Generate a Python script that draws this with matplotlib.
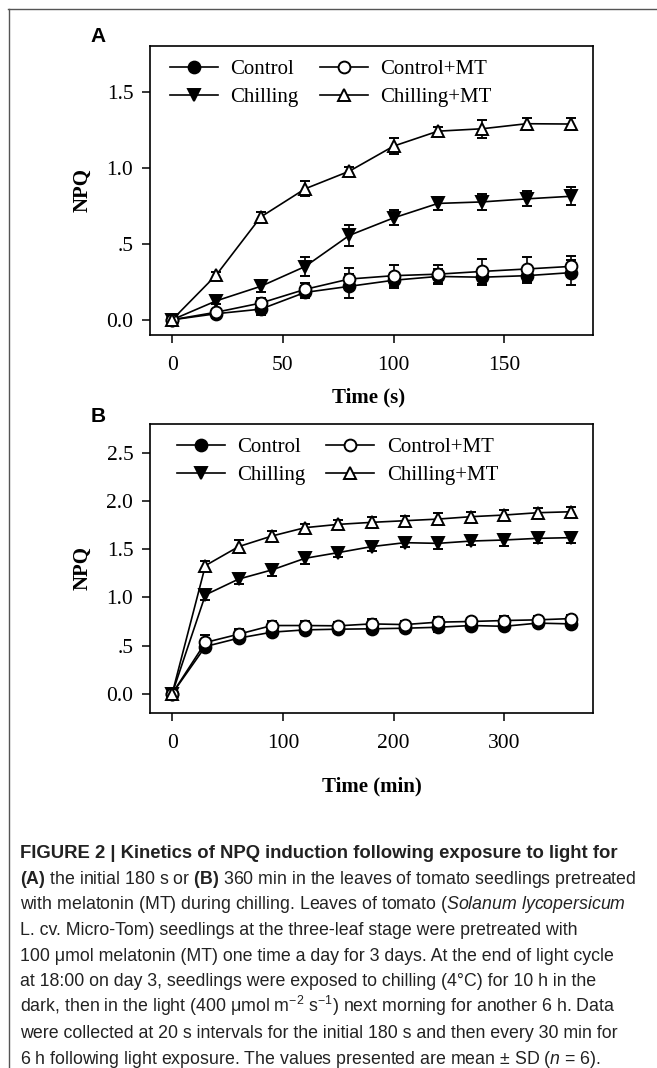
import matplotlib
matplotlib.use("Agg")
from matplotlib import pyplot as plt
from matplotlib.lines import Line2D

plt.rcParams["font.family"] = ["Liberation Serif", "DejaVu Serif"]
plt.rcParams["mathtext.fontset"] = "custom"
plt.rcParams["mathtext.rm"] = "Liberation Sans"
plt.rcParams["mathtext.it"] = "Liberation Sans:italic"
plt.rcParams["mathtext.bf"] = "Liberation Sans:bold"

# panel A: first 180 s
timeSec = [0, 20, 40, 60, 80, 100, 120, 140, 160, 180]
controlA = [0.0, 0.04, 0.07, 0.18, 0.22, 0.26, 0.285, 0.28, 0.29, 0.31]
controlA_sd = [0.0, 0.03, 0.04, 0.04, 0.08, 0.05, 0.05, 0.05, 0.05, 0.08]
chillingA = [0.0, 0.125, 0.22, 0.35, 0.555, 0.67, 0.765, 0.775, 0.795, 0.812]
chillingA_sd = [0.0, 0.02, 0.04, 0.06, 0.07, 0.05, 0.04, 0.05, 0.05, 0.06]
controlMtA = [0.0, 0.05, 0.11, 0.20, 0.268, 0.29, 0.30, 0.318, 0.334, 0.351]
controlMtA_sd = [0.0, 0.02, 0.03, 0.04, 0.07, 0.07, 0.06, 0.08, 0.08, 0.07]
chillingMtA = [0.0, 0.296, 0.676, 0.861, 0.977, 1.142, 1.24, 1.256, 1.289, 1.287]
chillingMtA_sd = [0.0, 0.02, 0.03, 0.05, 0.03, 0.05, 0.03, 0.06, 0.04, 0.04]

# panel B: 6 h, every 30 min
timeMin = [0, 30, 60, 90, 120, 150, 180, 210, 240, 270, 300, 330, 360]
controlB = [0.0, 0.49, 0.577, 0.639, 0.663, 0.67, 0.674, 0.68, 0.69, 0.708, 0.70, 0.733, 0.725]
controlB_sd = [0.0, 0.05, 0.04, 0.04, 0.04, 0.04, 0.04, 0.04, 0.05, 0.04, 0.03, 0.04, 0.04]
chillingB = [0.0, 1.026, 1.19, 1.285, 1.406, 1.465, 1.527, 1.568, 1.561, 1.585, 1.596, 1.613, 1.62]
chillingB_sd = [0.0, 0.05, 0.05, 0.06, 0.06, 0.05, 0.05, 0.05, 0.06, 0.04, 0.06, 0.05, 0.06]
controlMtB = [0.0, 0.532, 0.618, 0.708, 0.708, 0.705, 0.725, 0.718, 0.743, 0.75, 0.76, 0.767, 0.78]
controlMtB_sd = [0.0, 0.08, 0.05, 0.05, 0.05, 0.04, 0.05, 0.04, 0.05, 0.04, 0.05, 0.04, 0.04]
chillingMtB = [0.0, 1.33, 1.527, 1.637, 1.724, 1.758, 1.779, 1.796, 1.813, 1.838, 1.855, 1.879, 1.889]
chillingMtB_sd = [0.0, 0.05, 0.07, 0.05, 0.04, 0.05, 0.06, 0.05, 0.06, 0.05, 0.05, 0.05, 0.05]

seriesLabels = ["Control", "Chilling", "Control+MT", "Chilling+MT"]

captionLines = [
    "FIGURE 2 | Kinetics of NPQ induction following exposure to light for",
    r"$\mathbf{(A)}$ the initial 180 s or $\mathbf{(B)}$ 360 min in the leaves of tomato seedlings pretreated",
    r"with melatonin (MT) during chilling. Leaves of tomato ($\mathit{Solanum\ lycopersicum}$",
    "L. cv. Micro-Tom) seedlings at the three-leaf stage were pretreated with",
    "100 \u03bcmol melatonin (MT) one time a day for 3 days. At the end of light cycle",
    "at 18:00 on day 3, seedlings were exposed to chilling (4\u00b0C) for 10 h in the",
    "dark, then in the light (400 \u03bcmol m$^{-2}$ s$^{-1}$) next morning for another 6 h. Data",
    "were collected at 20 s intervals for the initial 180 s and then every 30 min for",
    "6 h following light exposure. The values presented are mean \u00b1 SD ($\\mathit{n}$ = 6).",
]

W, H = 657, 1068


def figRect(x0, y0, x1, y1):
    return [x0 / W, 1 - y1 / H, (x1 - x0) / W, (y1 - y0) / H]


def drawPanel(ax, x, data, xlim, ylim, yticks, yticklabels, xticks, xlabel, legX):
    styles = [
        {"marker": "o", "mfc": "black"},
        {"marker": "v", "mfc": "black"},
        {"marker": "o", "mfc": "white"},
        {"marker": "^", "mfc": "white"},
    ]
    handles = []
    for (y, sd), st in zip(data, styles):
        eb = ax.errorbar(
            x, y, yerr=sd,
            color="black", lw=1.2,
            marker=st["marker"], mfc=st["mfc"], mec="black", mew=1.4, ms=8.5,
            ecolor="black", elinewidth=1.2, capsize=3.5, capthick=1.2,
            clip_on=False,
        )
        handles.append(eb.lines[0])

    ax.set_xlim(xlim)
    ax.set_ylim(ylim)
    ax.set_xticks(xticks)
    ax.set_yticks(yticks)
    ax.set_yticklabels(yticklabels)
    ax.tick_params(direction="out", length=6, width=1.1, labelsize=15.5)
    ax.tick_params(axis="x", pad=9)
    ax.tick_params(axis="y", pad=6)
    for sp in ax.spines.values():
        sp.set_linewidth(1.2)

    ax.set_ylabel("NPQ", fontsize=15, fontweight="bold")
    ax.yaxis.set_label_coords(-0.129, 0.5)
    ax.set_xlabel(xlabel, fontsize=15, fontweight="bold")

    ax.legend(
        handles, seriesLabels, ncol=2, frameon=False, fontsize=15,
        loc="upper left", bbox_to_anchor=(legX, 1.0),
        handlelength=2.3, handletextpad=0.6, columnspacing=1.0,
        labelspacing=0.4, borderaxespad=0.25,
    )


fig = plt.figure(figsize=(W / 100, H / 100), dpi=100)

axA = fig.add_axes(figRect(150, 46, 593, 335))
drawPanel(
    axA, timeSec,
    [(controlA, controlA_sd), (chillingA, chillingA_sd),
     (controlMtA, controlMtA_sd), (chillingMtA, chillingMtA_sd)],
    (-10, 190), (-0.1, 1.8), [0, 0.5, 1.0, 1.5], ["0.0", ".5", "1.0", "1.5"],
    [0, 50, 100, 150], "Time (s)", 0.015,
)
axA.xaxis.set_label_coords(0.494, -0.18)

axB = fig.add_axes(figRect(150, 424, 593, 713))
drawPanel(
    axB, timeMin,
    [(controlB, controlB_sd), (chillingB, chillingB_sd),
     (controlMtB, controlMtB_sd), (chillingMtB, chillingMtB_sd)],
    (-20, 380), (-0.2, 2.8), [0, 0.5, 1.0, 1.5, 2.0, 2.5],
    ["0.0", ".5", "1.0", "1.5", "2.0", "2.5"],
    [0, 100, 200, 300], "Time (min)", 0.03,
)
axB.xaxis.set_label_coords(0.50, -0.221)

# panel letters
fig.text(98 / W, 1 - 36 / H, "A", family="Liberation Sans", fontweight="bold",
         fontsize=15, ha="center", va="center")
fig.text(98 / W, 1 - 417 / H, "B", family="Liberation Sans", fontweight="bold",
         fontsize=15, ha="center", va="center")

# caption
for i, line in enumerate(captionLines):
    fig.text(20 / W, 1 - (858 + 25.7 * i) / H, line, family="Liberation Sans",
             fontsize=13.3 if i == 0 else 12.8,
             fontweight="bold" if i == 0 else "normal",
             color="#222222", ha="left", va="baseline")

# frame lines at top and left
fig.add_artist(Line2D([8 / W, 1], [1 - 8.5 / H, 1 - 8.5 / H], color="#555555",
                      lw=1.0, transform=fig.transFigure))
fig.add_artist(Line2D([8.5 / W, 8.5 / W], [0, 1 - 8.5 / H], color="#555555",
                      lw=1.0, transform=fig.transFigure))

fig.savefig("out.png", dpi=100)
